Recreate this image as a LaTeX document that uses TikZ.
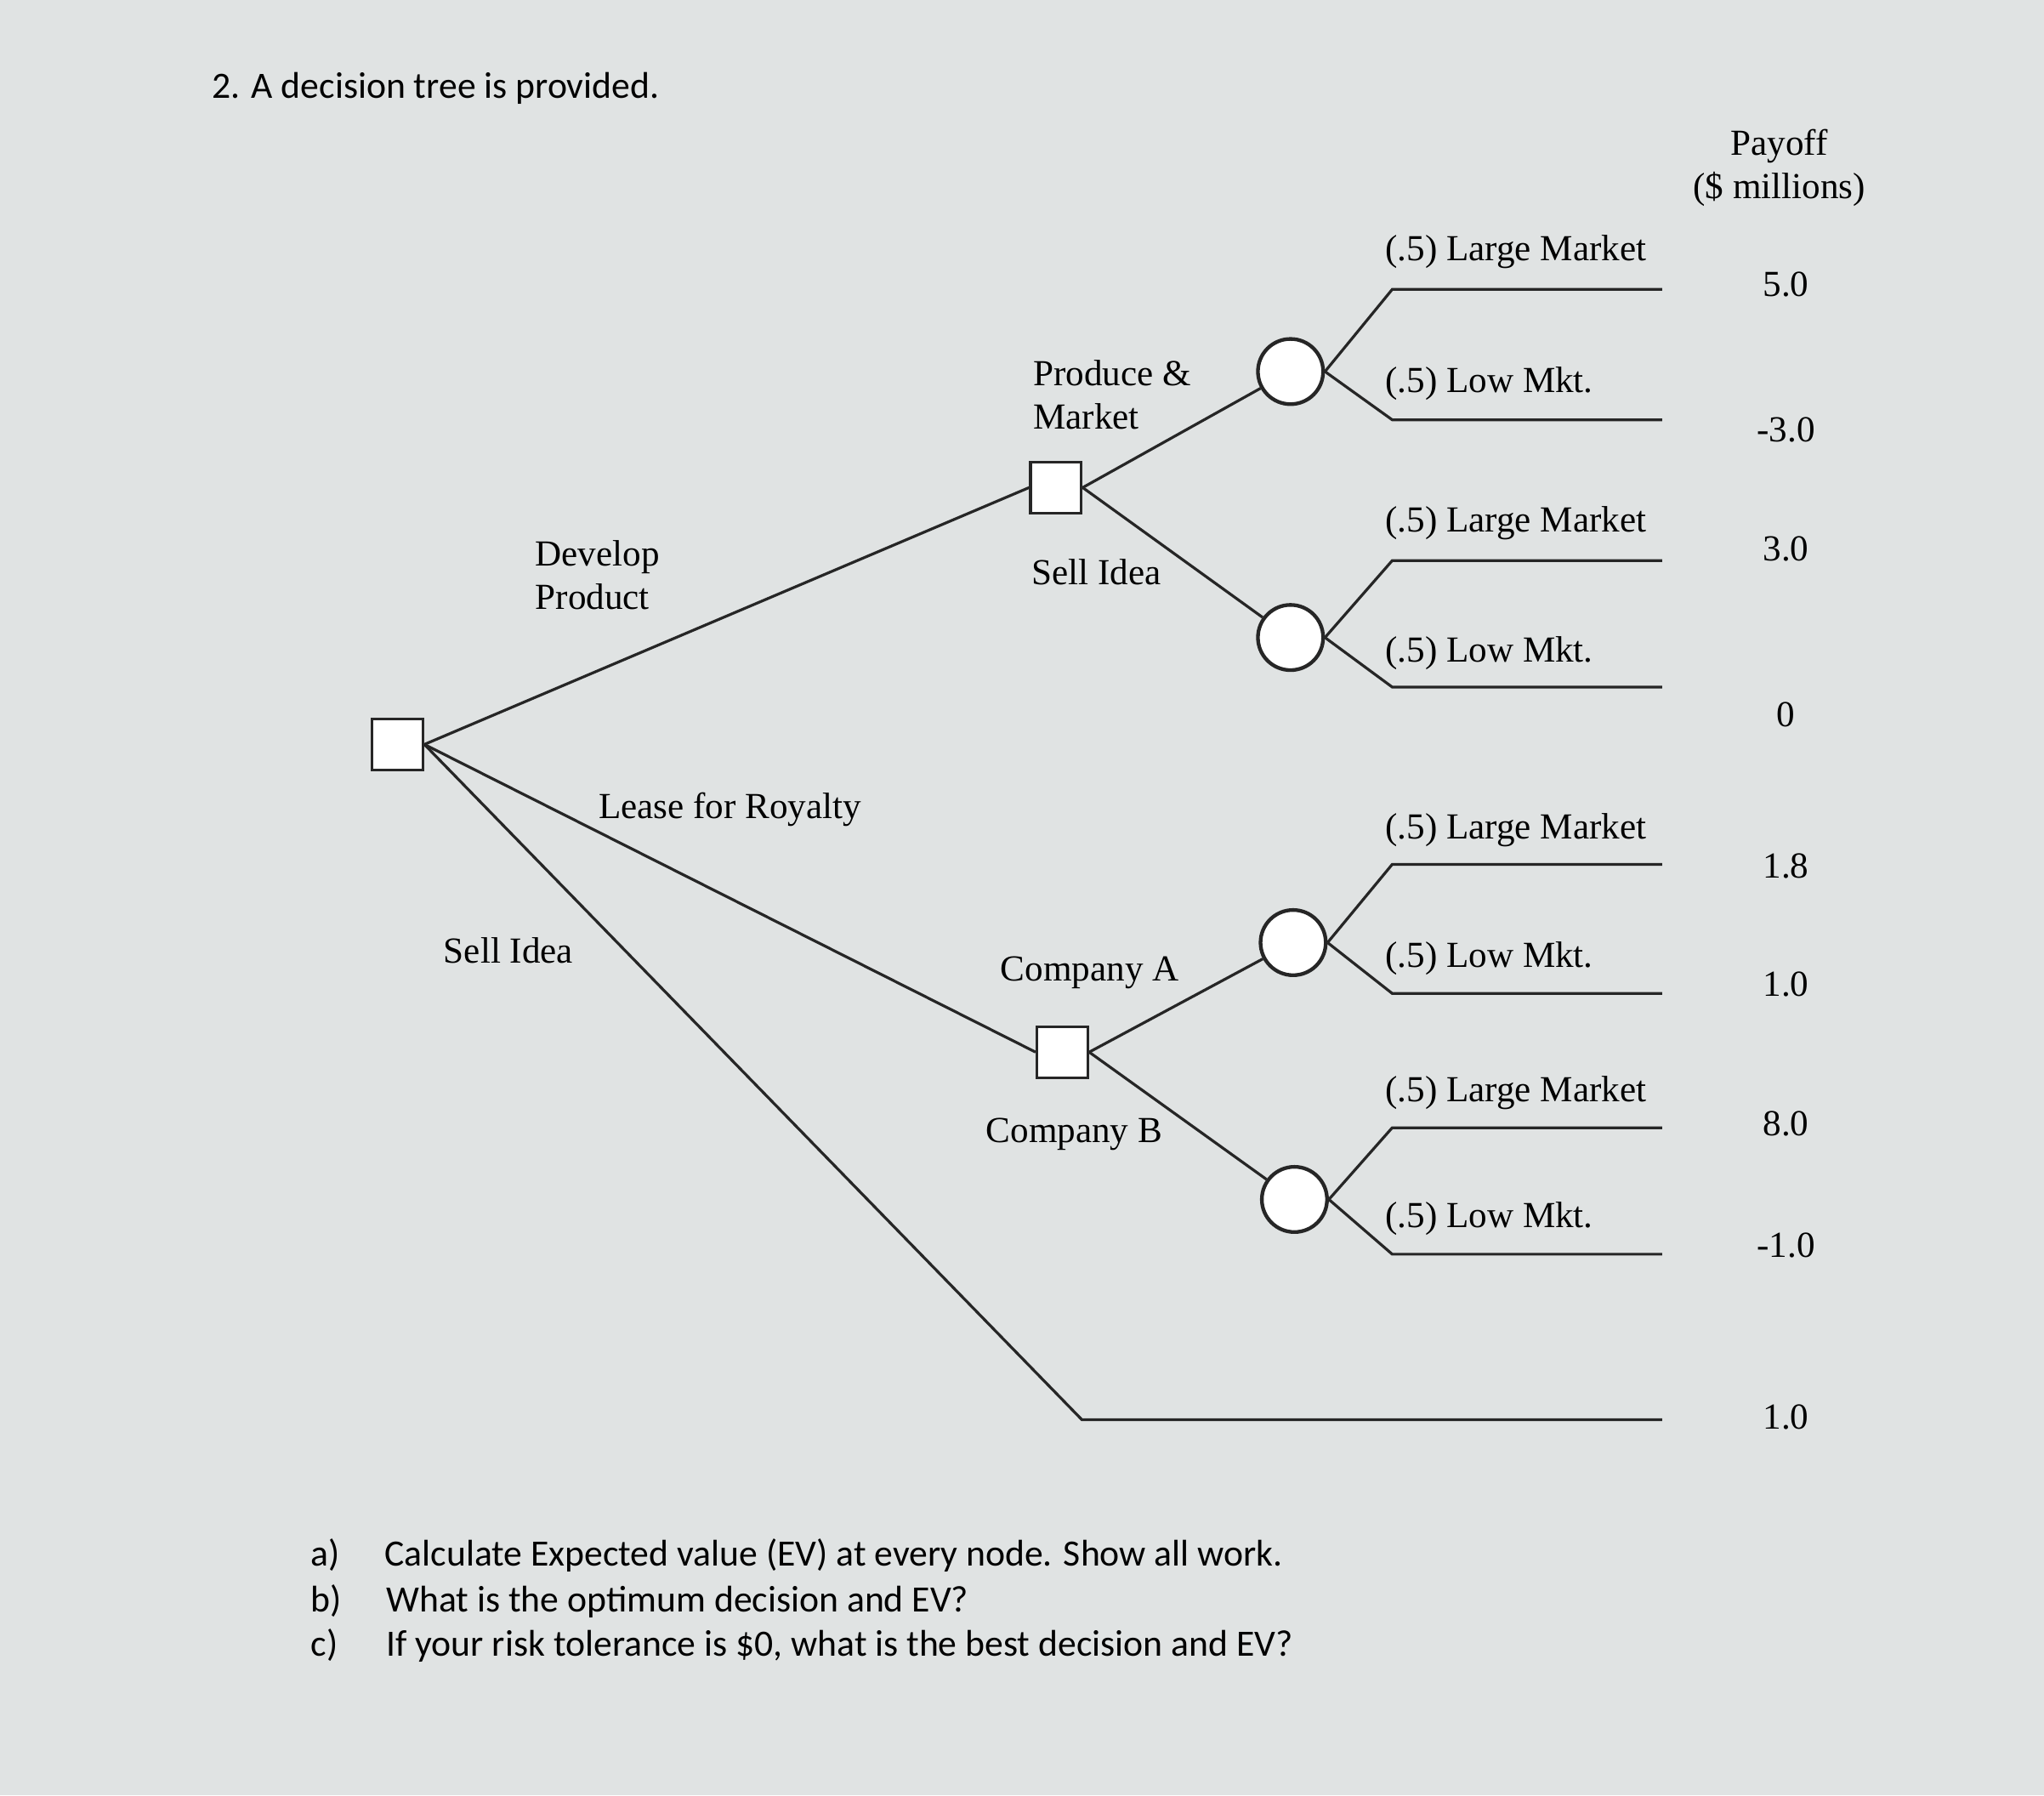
\documentclass[tikz,border=0pt]{standalone}
\usepackage{fontspec}
\setmainfont{Liberation Serif}
\newfontfamily\qfont{Carlito}
\definecolor{bg}{rgb}{0.88,0.89,0.89}
\begin{document}
\begin{tikzpicture}[x=0.01cm,y=-0.01cm,
  ln/.style={draw=black!85,line width=0.6pt},
  dec/.style={draw=black!85,line width=0.6pt,fill=white,minimum size=0.39cm,inner sep=0pt},
  chc/.style={circle,draw=black!85,line width=0.8pt,fill=white,minimum size=0.5cm,inner sep=0pt},
  lb/.style={font=\fontsize{8}{9.5}\selectfont,inner sep=0pt},
  q/.style={font=\qfont\fontsize{8.1}{10}\selectfont,inner sep=0pt,anchor=west}]
\fill[bg] (0,0) rectangle (1568,1377);
\useasboundingbox (0,0) rectangle (1568,1377);
\node[q] (title) at (162,68) {2. A decision tree is provided.};
% tree
\node[dec] (r) at (305,571) {};
\node[dec] (d1) at (810,374) {};
\node[dec] (d2) at (815,807) {};
\node[chc] (c1) at (990,285) {};
\node[chc] (c2) at (990,489) {};
\node[chc] (c3) at (992,723) {};
\node[chc] (c4) at (993,920) {};
\coordinate (s1) at (830,1089); \coordinate (s2) at (1275,1089);
\draw[ln] (r.east) -- (d1.west);
\draw[ln] (r.east) -- (d2.west);
\draw[ln] (r.east) -- (s1) -- (s2);
\draw[ln] (d1.east) -- (c1);
\draw[ln] (d1.east) -- (c2);
\draw[ln] (d2.east) -- (c3);
\draw[ln] (d2.east) -- (c4);
\foreach \c/\a/\b in {c1/222/322, c2/430/527, c3/663/762, c4/865/962}{
  \coordinate (\c u) at (1068,\a); \coordinate (\c ue) at (1275,\a);
  \coordinate (\c d) at (1068,\b); \coordinate (\c de) at (1275,\b);
  \draw[ln] (\c.east) -- (\c u) -- (\c ue);
  \draw[ln] (\c.east) -- (\c d) -- (\c de);
}
\foreach \n/\y/\t in {l1/193/(.5) Large Market, l2/294/(.5) Low Mkt., l3/401/(.5) Large Market, l4/501/(.5) Low Mkt., l5/637/(.5) Large Market, l6/735/(.5) Low Mkt., l7/838/(.5) Large Market, l8/935/(.5) Low Mkt.}
  \node[lb,anchor=west] (\n) at (1062,\y) {\t};
\foreach \n/\y/\t in {p1/218/5.0, p2/330/-3.0, p3/421/3.0, p4/548/0, p5/664/1.8, p6/755/1.0, p7/862/8.0, p8/955/-1.0, p9/1087/1.0}
  \node[lb] (\n) at (1370,\y) {\t};
\node[lb,align=center] (pay) at (1365,129) {Payoff\\[0pt](\$ millions)};
\node[lb,align=left,anchor=west] (dev) at (410,441) {Develop\\[0pt]Product};
\node[lb] (lease) at (560,621) {Lease for Royalty};
\node[lb] (sell) at (390,729) {Sell Idea};
\node[lb,align=left,anchor=west] (pm) at (792,303) {Produce \&\\[0pt]Market};
\node[lb] (sell2) at (841,439) {Sell Idea};
\node[lb] (ca) at (836,746) {Company A};
\node[lb] (cb) at (824,870) {Company B};
\node[q] (qa) at (238,1193) {a)\hspace{1.2em}Calculate Expected value (EV) at every node. Show all work.};
\node[q] (qb) at (238,1228) {b)\hspace{1.2em}What is the optimum decision and EV?};
\node[q] (qc) at (238,1262) {c)\hspace{1.3em}If your risk tolerance is \$0, what is the best decision and EV?};
\end{tikzpicture}
\end{document}
